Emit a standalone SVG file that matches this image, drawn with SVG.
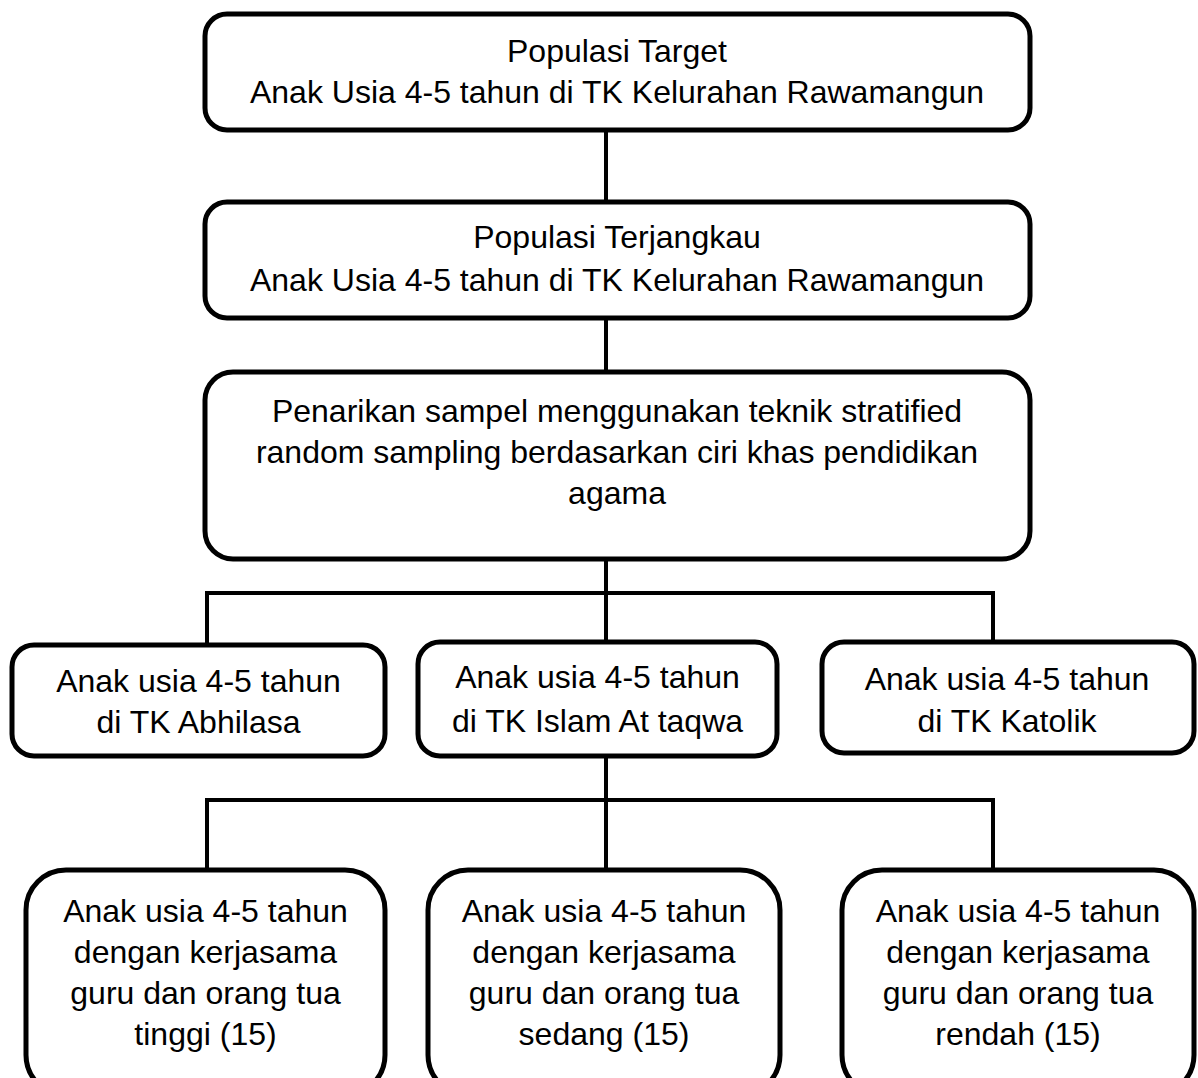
<svg xmlns="http://www.w3.org/2000/svg" width="1198" height="1078" viewBox="0 0 1198 1078">
<style>
.box{fill:#fff;stroke:#000;stroke-width:5}
.ln{fill:none;stroke:#000;stroke-width:4}
text{font-family:"Liberation Sans",Arial,sans-serif;font-size:32px;fill:#000;text-anchor:middle}
</style>
<rect width="1198" height="1078" fill="#fff"/>
<g id="connectors">
<line class="ln" x1="606" y1="130" x2="606" y2="202"/>
<line class="ln" x1="606" y1="318" x2="606" y2="372"/>
<line class="ln" x1="606" y1="559" x2="606" y2="593"/>
<polyline class="ln" points="207,645 207,593 993,593 993,642"/>
<line class="ln" x1="606" y1="593" x2="606" y2="642"/>
<line class="ln" x1="606" y1="756" x2="606" y2="800"/>
<polyline class="ln" points="207,870 207,800 993,800 993,870"/>
<line class="ln" x1="606" y1="800" x2="606" y2="870"/>
</g>
<g id="n1"><rect class="box" x="205" y="14" width="825" height="116" rx="22"/>
<text x="617" y="62">Populasi Target</text><text x="617" y="103">Anak Usia 4-5 tahun di TK Kelurahan Rawamangun</text></g>
<g id="n2"><rect class="box" x="205" y="202" width="825" height="116" rx="22"/>
<text x="617" y="248">Populasi Terjangkau</text><text x="617" y="291">Anak Usia 4-5 tahun di TK Kelurahan Rawamangun</text></g>
<g id="n3"><rect class="box" x="205" y="372" width="825" height="187" rx="28"/>
<text x="617" y="422">Penarikan sampel menggunakan teknik stratified</text><text x="617" y="463">random sampling berdasarkan ciri khas pendidikan</text><text x="617" y="504">agama</text></g>
<g id="nA"><rect class="box" x="12" y="645" width="373" height="111" rx="22"/>
<text x="198.5" y="692">Anak usia 4-5 tahun</text><text x="198.5" y="733">di TK Abhilasa</text></g>
<g id="nB"><rect class="box" x="418" y="642" width="359" height="114" rx="22"/>
<text x="597.5" y="688">Anak usia 4-5 tahun</text><text x="597.5" y="732">di TK Islam At taqwa</text></g>
<g id="nC"><rect class="box" x="822" y="642" width="372" height="111" rx="22"/>
<text x="1007" y="690">Anak usia 4-5 tahun</text><text x="1007" y="732">di TK Katolik</text></g>
<g id="nD"><rect class="box" x="26" y="870" width="359" height="225" rx="40"/>
<text x="205.5" y="922">Anak usia 4-5 tahun</text><text x="205.5" y="963">dengan kerjasama</text><text x="205.5" y="1004">guru dan orang tua</text><text x="205.5" y="1045">tinggi (15)</text></g>
<g id="nE"><rect class="box" x="428" y="870" width="352" height="225" rx="40"/>
<text x="604" y="922">Anak usia 4-5 tahun</text><text x="604" y="963">dengan kerjasama</text><text x="604" y="1004">guru dan orang tua</text><text x="604" y="1045">sedang (15)</text></g>
<g id="nF"><rect class="box" x="842" y="870" width="352" height="225" rx="40"/>
<text x="1018" y="922">Anak usia 4-5 tahun</text><text x="1018" y="963">dengan kerjasama</text><text x="1018" y="1004">guru dan orang tua</text><text x="1018" y="1045">rendah (15)</text></g>
</svg>
